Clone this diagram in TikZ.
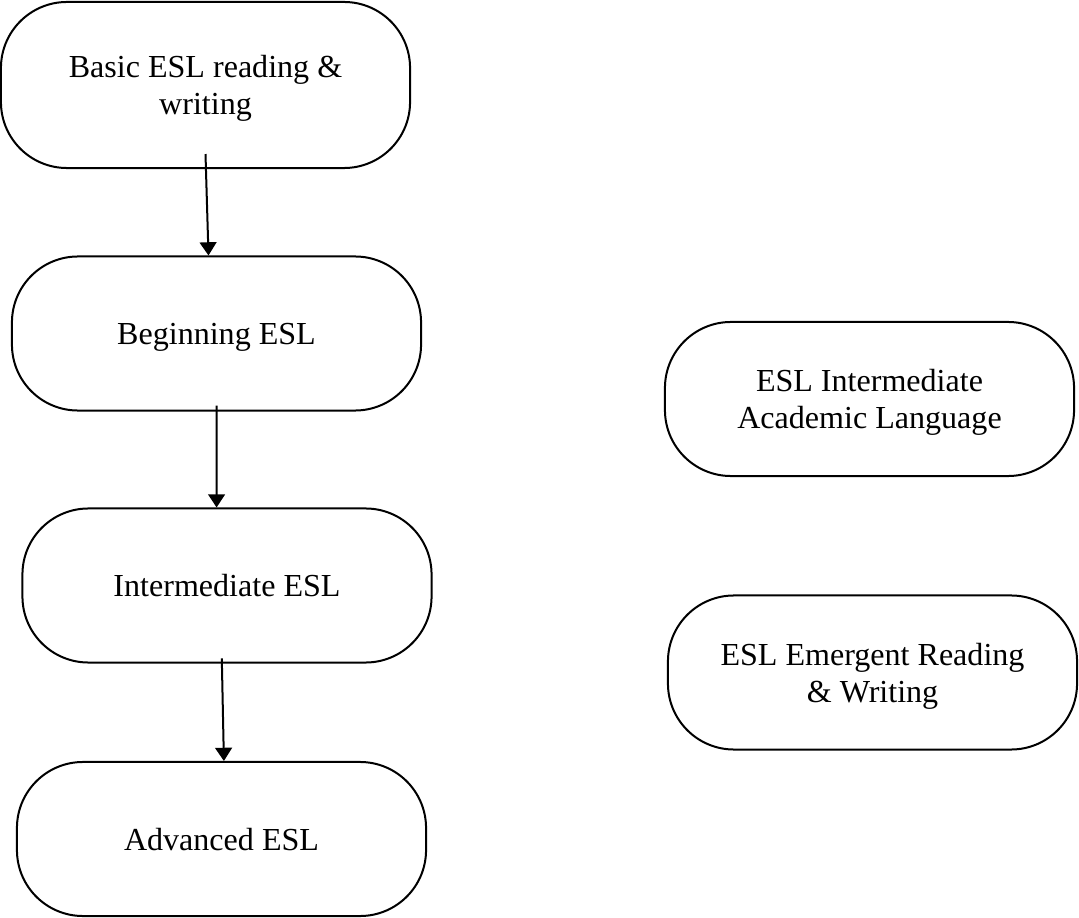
\documentclass[tikz,border=0pt]{standalone}
\usepackage{fontspec}
\setmainfont{Liberation Serif}
\usetikzlibrary{arrows.meta}

\begin{document}
\begin{tikzpicture}[x=0.025cm, y=-0.025cm, >={Triangle[width=0.42cm,length=0.33cm]},
	course/.style={draw, line width=0.05cm, rounded corners=1.65cm, minimum width=10.225cm, minimum height=3.85cm, align=center, text depth=0pt, font=\fontsize{22.8}{26.2}\selectfont}]
			\useasboundingbox (0,0) rectangle (1079,918);
			\node[course, minimum height=4.15cm] (basic) at (205.5,85) {Basic ESL reading \&\\writing};
			\node[course] (beginning) at (216.5,333.5) {Beginning ESL};
			\node[course] (intermediate) at (227,585.5) {Intermediate ESL};
			\node[course] (advanced) at (221.5,839) {Advanced ESL};
			\node[course] (academic) at (869.5,399) {ESL Intermediate\\Academic Language};
			\node[course] (emergent) at (872.5,672.5) {ESL Emergent Reading\\\& Writing};
			\draw[->, line width=0.05cm] ([yshift=0.375cm]basic.south) -- ([xshift=-0.2cm]beginning.north);
			\draw[->, line width=0.05cm] ([yshift=0.15cm]beginning.south) -- ([xshift=-0.26cm]intermediate.north);
			\draw[->, line width=0.05cm] ([xshift=-0.13cm, yshift=0.13cm]intermediate.south) -- ([xshift=0.06cm]advanced.north);
		\end{tikzpicture}
\end{document}
